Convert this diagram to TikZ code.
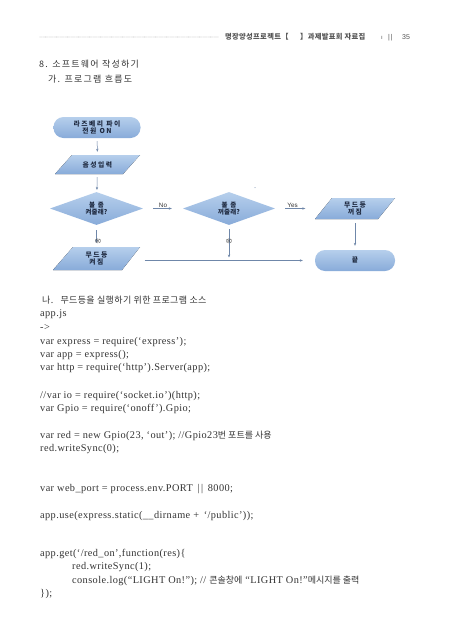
\documentclass[tikz,border=0pt]{standalone}
\usepackage{fontspec}
\setmainfont{Liberation Serif}
\newfontfamily\codef[LetterSpace=4,Ligatures=TeX]{Liberation Serif}
\newfontfamily\kr{Noto Sans CJK KR}
\newfontfamily\krh[LetterSpace=14]{Noto Sans CJK KR}
\newfontfamily\krhd[LetterSpace=4]{Noto Sans CJK KR}
\newfontfamily\krs[LetterSpace=22]{Noto Sans CJK KR}
\newfontfamily\krd[LetterSpace=2]{Noto Sans CJK KR}
\newfontfamily\sansf{Liberation Sans}
\usetikzlibrary{shapes.geometric,arrows.meta}
\definecolor{shA}{HTML}{B6CFEC}
\definecolor{shB}{HTML}{88ABD9}
\definecolor{lnc}{HTML}{6F87A9}
\definecolor{boxtxt}{HTML}{1F2A40}
\definecolor{codetxt}{HTML}{333333}
\definecolor{hdrtxt}{HTML}{555555}
\tikzset{
  shapefill/.style={top color=shA,bottom color=shB,draw=none},
  boxfont/.style={font=\krs\bfseries\fontsize{6.8}{8}\selectfont, text=boxtxt},
  term/.style={shapefill, rectangle, rounded corners=10pt, inner sep=0pt, align=center, boxfont},
  dec/.style={shapefill, diamond, inner sep=0pt, aspect=2.8, align=center, font=\krd\bfseries\fontsize{6.5}{7.5}\selectfont, text=boxtxt},
  paratext/.style={rectangle, inner sep=0pt, align=center, boxfont},
  conn/.style={draw=lnc, line width=0.5pt, -{Stealth[length=3pt,width=2.4pt]}},
  lab/.style={font=\sansf\fontsize{6.3}{7}\selectfont, text=codetxt, inner sep=1pt},
  rlab/.style={font=\kr\fontsize{6}{7}\selectfont, text=codetxt, inner sep=0pt, rotate=-90},
  code/.style={anchor=base west, inner sep=0pt, font=\codef\fontsize{10.3}{12}\selectfont, text=codetxt},
  kor/.style={anchor=base west, inner sep=0pt, font=\krh\fontsize{9}{11}\selectfont, text=codetxt},
  hdr/.style={anchor=base west, inner sep=0pt, font=\krhd\bfseries\fontsize{7.3}{8}\selectfont, text=hdrtxt},
}
\newcommand{\krc}[1]{{\kr\fontsize{9}{11}\selectfont #1}}
\begin{document}
\begin{tikzpicture}[x=1pt,y=-1pt]
\useasboundingbox (0,0) rectangle (452,640);
\fill[white] (0,0) rectangle (452,640);

% header
\coordinate (d1) at (40,37);
\coordinate (d2) at (219,37);
\draw[hdrtxt!55, line width=0.55pt, line cap=round, dash pattern=on 0pt off 1.1pt] (d1) -- (d2);
\node[hdr] (h1) at (225,39.5) {명장양성프로젝트【};
\node[hdr] (h2) at (300,39.5) {】과제발표회 자료집};
\node[hdr, font=\sansf\fontsize{6}{7}\selectfont] (h3) at (381,39.5) {ı};
\node[hdr, font=\sansf\fontsize{7}{8}\selectfont] (h4) at (388,39.5) {|\hspace{0.6pt}|};
\node[hdr, font=\sansf\fontsize{7}{8}\selectfont] (h5) at (402,39.5) {35};

% headings
\node[kor] (t1) at (39,67.5) {8. 소프트웨어 작성하기};
\node[kor] (t2) at (48,82) {가. 프로그램 흐름도};

% flowchart
\node[term, minimum width=87pt, minimum height=21pt] (start) at (97,127.5) {라즈베리 파이\\[-1.5pt]전원 ON};

\fill[shapefill] (55,174) -- (123,174) -- (140,155) -- (72,155) -- cycle;
\node[paratext, minimum width=68pt, minimum height=19pt] (in) at (97.5,164.5) {음성입력};

\node[dec, minimum width=93pt, minimum height=33pt] (d1n) at (96.5,208.5) {불\hspace{3pt}좀\\[-1pt]켜줄래?};
\node[dec, minimum width=92pt, minimum height=33pt] (d2n) at (229,208.5) {불\hspace{3pt}좀\\[-1pt]꺼줄래?};

\fill[shapefill] (53,270) -- (122,270) -- (140,247) -- (73,247) -- cycle;
\node[paratext, minimum width=68pt, minimum height=23pt] (on) at (96.5,258.5) {무드등\\[-1.5pt]켜짐};

\fill[shapefill] (315,219) -- (378,219) -- (395,198) -- (332,198) -- cycle;
\node[paratext, minimum width=63pt, minimum height=21pt] (off) at (355,208.5) {무드등\\[-1.5pt]꺼짐};

\node[term, minimum width=80pt, minimum height=21pt] (end) at (355,260.5) {끝};

\fill[lnc] (255,187.5) circle (0.5pt);

\coordinate (j) at (229,260.5);

\draw[conn, shorten <=3pt, shorten >=3pt] (start) -- (in);
\draw[conn, shorten <=3pt, shorten >=2pt] (in) -- (d1n);
\draw[conn, shorten <=5pt, shorten >=4pt] (d1n) -- (on);
\draw[conn, shorten <=10pt, shorten >=11pt] (d1n) -- node[lab, above=-0.5pt] (lno) {No} (d2n);
\draw[conn, shorten <=10pt, shorten >=18pt] (d2n.east) -- node[lab, above=-0.5pt, pos=0.36] (lyes) {Yes} (off.west |- d2n.east);
\draw[conn, shorten <=4pt, shorten >=4pt] (off) -- (end);
\draw[conn, shorten <=4pt, shorten >=3pt] (d2n) -- node[rlab, right=1pt, pos=0.35] (l2) {응} (j);
\draw[conn, shorten <=14pt, shorten >=12pt] (on.east |- end.west) -- (end.west);
\node[rlab, right=1pt] (l1) at (98,237) {응};

% code
\node[kor, font=\krhd\fontsize{9}{11}\selectfont] (c0) at (42,303.5) {나.\hspace{4pt} 무드등을 실행하기 위한 프로그램 소스};
\node[code] (c1) at (40,316.5) {app.js};
\node[code] (c2) at (40,330.5) {->};
\node[code] (c3) at (40,344.5) {var express = require(`express');};
\node[code] (c4) at (40,357.5) {var app = express();};
\node[code] (c5) at (40,370.5) {var http = require(`http').Server(app);};
\node[code] (c6) at (40,398.5) {//var io = require(`socket.io')(http);};
\node[code] (c7) at (40,411.5) {var Gpio = require(`onoff').Gpio;};
\node[code] (c8) at (40,438.5) {var red = new Gpio(23, `out'); //Gpio23\krc{번 포트를 사용}};
\node[code] (c9) at (40,451.5) {red.writeSync(0);};
\node[code] (c10) at (40,491.5) {var web\_port = process.env.PORT \,|\hspace{1.5pt}|\, 8000;};
\node[code] (c11) at (40,518.5) {app.use(express.static(\_\_dirname + \,`/public'));};
\node[code] (c12) at (40,556.5) {app.get(`/red\_on',function(res)\{};
\node[code] (c13) at (72,569.5) {red.writeSync(1);};
\node[code] (c14) at (72,583.5) {console.log(``LIGHT On!''); // \krc{콘솔창에} ``LIGHT On!''\krc{메시지를 출력}};
\node[code] (c15) at (40,596.5) {\});};
\end{tikzpicture}
\end{document}
